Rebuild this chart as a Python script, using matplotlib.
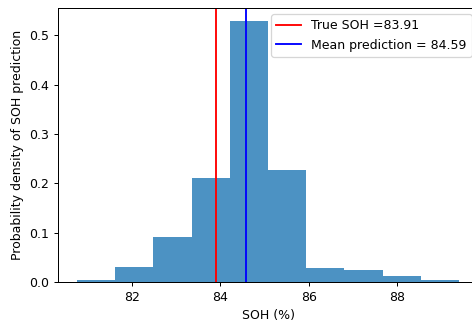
import numpy as np
import matplotlib
matplotlib.use("Agg")
import matplotlib.pyplot as plt

# histogram (density per bin)
edges = np.linspace(80.755, 89.40, 11)
density = [0.004, 0.031, 0.0905, 0.211, 0.529, 0.228, 0.028, 0.024, 0.0128, 0.0035]
true_soh = 83.91
mean_pred = 84.59

W, H, dpi = 472, 322, 90
fig = plt.figure(figsize=(W / dpi, H / dpi), dpi=dpi)
# the reference is cropped a little on the right, so the axes run past the edge
ax = fig.add_axes([58 / W, 1 - 282 / H, 420 / W, 274 / H])
ax.hist(edges[:-1], bins=edges, weights=density, alpha=0.8)
ax.axvline(true_soh, color='r', label='True SOH =%.2f' % true_soh)
ax.axvline(mean_pred, color='b', label='Mean prediction = %.2f' % mean_pred)
ax.set_xlabel('SOH (%)')
ax.set_ylabel('Probability density of SOH prediction')
ax.legend(loc='upper right')
fig.savefig('out.png', dpi=dpi)
